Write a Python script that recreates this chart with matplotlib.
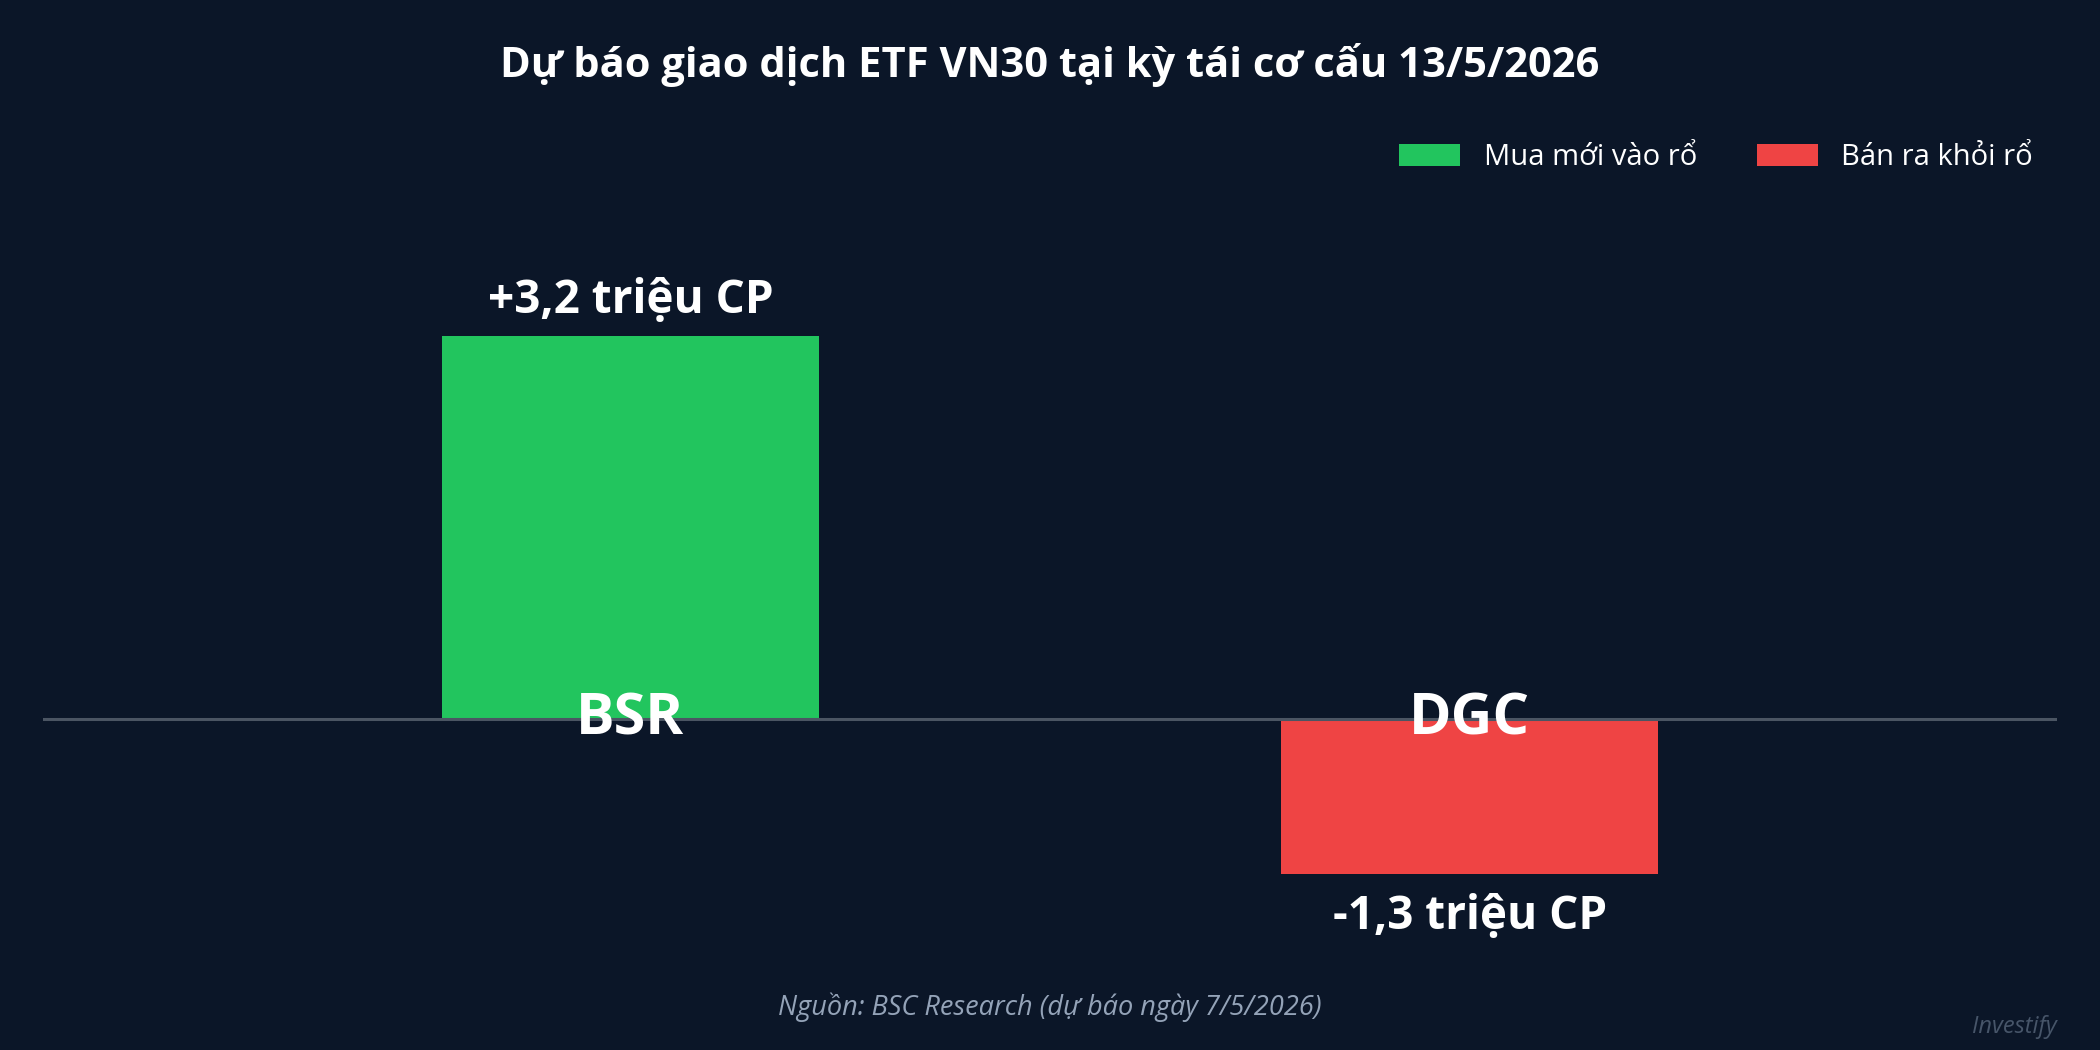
import matplotlib
matplotlib.use("Agg")
import matplotlib.pyplot as plt
from matplotlib.patches import Patch

# ---- data ----
tickers = ["BSR", "DGC"]
values = [3.2, -1.3]
value_labels = ["+3,2 triệu CP", "-1,3 triệu CP"]
legend_labels = ["Mua mới vào rổ", "Bán ra khỏi rổ"]
title = "Dự báo giao dịch ETF VN30 tại kỳ tái cơ cấu 13/5/2026"
source = "Nguồn: BSC Research (dự báo ngày 7/5/2026)"
brand = "Investify"

# ---- style ----
BG = "#0b1628"
GREEN = "#22c55e"
RED = "#ef4444"
plt.rcParams["font.family"] = ["Open Sans", "Noto Sans", "DejaVu Sans"]

fig = plt.figure(figsize=(21, 10.5), dpi=100, facecolor=BG)
ax = fig.add_axes([43 / 2100, 92 / 1050, 2014 / 2100, 718 / 1050])
ax.set_facecolor(BG)

x = list(range(len(tickers)))
colors = [GREEN if v >= 0 else RED for v in values]
ax.bar(x, values, width=0.45, color=colors, zorder=2)
ax.axhline(0, color="#4b5563", lw=2.2, zorder=3)

ax.set_xlim(-0.7, 1.7)
ax.set_ylim(-2.0, 4.0)
ax.axis("off")

for xi, v, t, lab in zip(x, values, tickers, value_labels):
    ax.annotate(t, xy=(xi, 0), xytext=(0, -11.5), textcoords="offset points",
                ha="center", va="baseline", fontsize=41.5, fontweight="bold",
                color="white", zorder=4)
    if v >= 0:
        ax.annotate(lab, xy=(xi, v), xytext=(0, 16.5), textcoords="offset points",
                    ha="center", va="baseline", fontsize=33, fontweight="bold",
                    color="white")
    else:
        ax.annotate(lab, xy=(xi, v), xytext=(0, -39.5), textcoords="offset points",
                    ha="center", va="baseline", fontsize=33, fontweight="bold",
                    color="white")

fig.text(0.5, 1 - 77 / 1050, title, ha="center", va="baseline",
         fontsize=30, fontweight="bold", color="white")

handles = [Patch(facecolor=GREEN, label=legend_labels[0]),
           Patch(facecolor=RED, label=legend_labels[1])]
leg = fig.legend(handles=handles, loc="center right",
                 bbox_to_anchor=(2033 / 2100, 1 - 157.5 / 1050),
                 ncol=2, frameon=False, fontsize=21, labelcolor="white",
                 handlelength=2.1, handleheight=0.8, handletextpad=0.8,
                 columnspacing=2.05, borderpad=0, borderaxespad=0)

fig.text(0.5, 1 - 1015 / 1050, source, ha="center", va="baseline",
         fontsize=19.5, style="italic", color="#94a3b8")
fig.text(2057 / 2100, 1 - 1033 / 1050, brand, ha="right", va="baseline",
         fontsize=17, style="italic", color="#475569")

fig.savefig("out.png", dpi=100, facecolor=BG)
